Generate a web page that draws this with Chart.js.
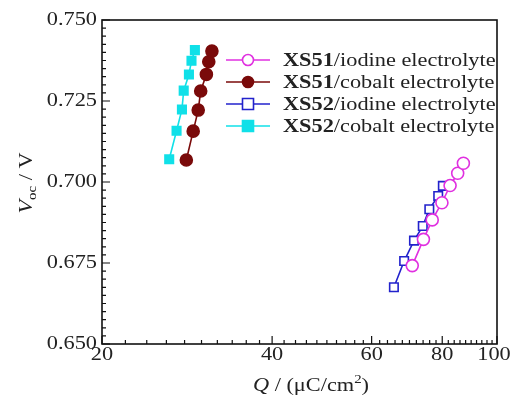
<!DOCTYPE html>
<html>
<head>
<meta charset="utf-8">
<script src="https://cdn.jsdelivr.net/npm/chart.js@4/dist/chart.umd.min.js"></script>
<style>
  html, body { margin: 0; padding: 0; background: #fff; }
  #wrap { width: 515px; height: 401px; }
</style>
</head>
<body>
<div id="wrap"><canvas id="qvChart" width="515" height="401"></canvas></div>
<script>
// series: Q in uC/cm2, Voc in V
const xs51IodineQ = [70.8, 74.1, 76.8, 79.9, 82.6, 85.2, 87.2];
const xs51IodineV = [0.6742, 0.6823, 0.6883, 0.6936, 0.6989, 0.7027, 0.7058];
const xs51CobaltQ = [28.2, 29.0, 29.6, 29.9, 30.6, 30.9, 31.3];
const xs51CobaltV = [0.7068, 0.7157, 0.7222, 0.7281, 0.7332, 0.7371, 0.7404];
const xs52IodineQ = [65.7, 68.5, 71.3, 73.9, 75.9, 78.7, 80.2];
const xs52IodineV = [0.6675, 0.6756, 0.6819, 0.6864, 0.6916, 0.6957, 0.6988];
const xs52CobaltQ = [26.3, 27.1, 27.7, 27.9, 28.5, 28.8, 29.2];
const xs52CobaltV = [0.7070, 0.7158, 0.7224, 0.7282, 0.7332, 0.7374, 0.7407];

const seriesNames = ['XS51', 'XS51', 'XS52', 'XS52'];
const seriesSuffix = ['/iodine electrolyte', '/cobalt electrolyte', '/iodine electrolyte', '/cobalt electrolyte'];
const xTicks = [20, 40, 60, 80, 100];
const yTicks = [0.650, 0.675, 0.700, 0.725, 0.750];

const serif = '"Liberation Serif", "DejaVu Serif", serif';
const stretch = 1.24; // the original text is a little wide

function pts(qs, vs) {
    return qs.map((q, i) => ({ x: q, y: vs[i] }));
}

const datasets = [
    { data: pts(xs51IodineQ, xs51IodineV), borderColor: '#e030e0', backgroundColor: '#ffffff', pointStyle: 'circle', pointRadius: 6 },
    { data: pts(xs51CobaltQ, xs51CobaltV), borderColor: '#7a0a0a', backgroundColor: '#7a0a0a', pointStyle: 'circle', pointRadius: 6 },
    { data: pts(xs52IodineQ, xs52IodineV), borderColor: '#2222cc', backgroundColor: '#ffffff', pointStyle: 'rect', pointRadius: 6 },
    { data: pts(xs52CobaltQ, xs52CobaltV), borderColor: '#10e0e8', backgroundColor: '#10e0e8', pointStyle: 'rect', pointRadius: 6 }
].map(d => Object.assign(d, {
    showLine: true,
    borderWidth: 1.6,
    pointBorderWidth: 1.6,
    pointBackgroundColor: d.backgroundColor,
    pointBorderColor: d.borderColor,
    tension: 0
}));

// draw a run of [text, font, dy] pieces, stretched horizontally
function drawRun(ctx, parts, x, y, align) {
    let total = 0;
    parts.forEach(p => { ctx.font = p[1]; total += ctx.measureText(p[0]).width * stretch; });
    let cx = align === 'right' ? x - total : align === 'center' ? x - total / 2 : x;
    parts.forEach(p => {
        ctx.font = p[1];
        const w = ctx.measureText(p[0]).width;
        ctx.save();
        ctx.translate(cx, y + (p[2] || 0));
        ctx.scale(stretch, 1);
        ctx.textAlign = 'left';
        ctx.fillText(p[0], 0, 0);
        ctx.restore();
        cx += w * stretch;
    });
}

const decorations = {
    id: 'decorations',
    afterDraw(chart) {
        const ctx = chart.ctx;
        const a = chart.chartArea;
        const xs = chart.scales.x, ys = chart.scales.y;
        ctx.save();
        ctx.strokeStyle = '#111';
        ctx.lineWidth = 1.6;
        ctx.strokeRect(a.left, a.top, a.right - a.left, a.bottom - a.top);

        ctx.lineWidth = 1.2;
        ctx.beginPath();
        for (let v = 20; v <= 100; v += 2) {
            const px = xs.getPixelForValue(v);
            const len = xTicks.includes(v) ? 8 : 4;
            ctx.moveTo(px, a.bottom); ctx.lineTo(px, a.bottom - len);
        }
        for (let i = 0; i <= 40; i++) {
            const py = ys.getPixelForValue(0.65 + i * 0.0025);
            const len = i % 10 === 0 ? 8 : 4;
            ctx.moveTo(a.left, py); ctx.lineTo(a.left + len, py);
        }
        ctx.stroke();

        const reg = '18px ' + serif, ital = 'italic 18px ' + serif, small = '12px ' + serif;
        ctx.fillStyle = '#222';

        // tick labels
        ctx.textBaseline = 'middle';
        yTicks.forEach(v => drawRun(ctx, [[v.toFixed(3), reg]], a.left - 5, ys.getPixelForValue(v), 'right'));
        xTicks.forEach(v => {
            let px = xs.getPixelForValue(v);
            if (v === 100) px -= 3;
            drawRun(ctx, [[String(v), reg]], px, a.bottom + 11, 'center');
        });

        // axis titles
        ctx.textBaseline = 'alphabetic';
        drawRun(ctx, [['Q', ital], [' / (\u03bcC/cm', reg], ['2', small, -8], [')', reg]], 311, 391, 'center');

        ctx.save();
        ctx.translate(32, 183);
        ctx.rotate(-Math.PI / 2);
        drawRun(ctx, [['V', ital], ['oc', small, 4], [' / V', reg]], 0, 0, 'center');
        ctx.restore();

        // legend
        const lx = 226, lw = 44, tx = 283;
        chart.data.datasets.forEach((d, i) => {
            const ly = 60 + i * 22;
            ctx.strokeStyle = d.borderColor;
            ctx.lineWidth = 1.6;
            ctx.beginPath(); ctx.moveTo(lx, ly); ctx.lineTo(lx + lw, ly); ctx.stroke();
            const cx = lx + lw / 2, r = 5.5;
            ctx.fillStyle = d.backgroundColor;
            ctx.beginPath();
            if (d.pointStyle === 'circle') ctx.arc(cx, ly, r, 0, Math.PI * 2);
            else ctx.rect(cx - r, ly - r, 2 * r, 2 * r);
            ctx.fill(); ctx.stroke();
            ctx.fillStyle = '#222';
            ctx.textBaseline = 'middle';
            drawRun(ctx, [[seriesNames[i], 'bold 18px ' + serif], [seriesSuffix[i], reg]], tx, ly + 1, 'left');
        });
        ctx.restore();
    }
};

new Chart(document.getElementById('qvChart'), {
    type: 'scatter',
    data: { datasets: datasets },
    plugins: [decorations],
    options: {
        responsive: false,
        animation: false,
        layout: { padding: { top: 20, right: 18, left: 0, bottom: 0 } },
        plugins: { legend: { display: false }, tooltip: { enabled: false } },
        scales: {
            x: {
                type: 'logarithmic',
                min: 20,
                max: 100,
                afterBuildTicks(scale) { scale.ticks = xTicks.map(v => ({ value: v })); },
                afterFit(scale) { scale.height = 57; },
                grid: { display: false, drawTicks: false },
                border: { display: false },
                ticks: { display: false }
            },
            y: {
                min: 0.65,
                max: 0.75,
                afterBuildTicks(scale) { scale.ticks = yTicks.map(v => ({ value: v })); },
                afterFit(scale) { scale.width = 102; },
                grid: { display: false, drawTicks: false },
                border: { display: false },
                ticks: { display: false }
            }
        }
    }
});
</script>
</body>
</html>
